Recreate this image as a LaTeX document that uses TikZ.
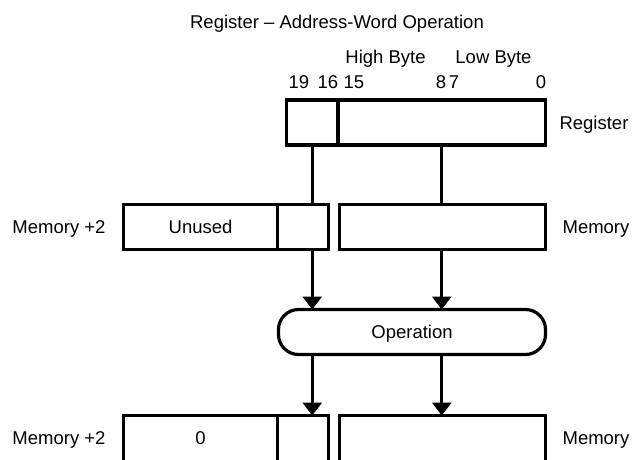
\documentclass[tikz,border=0pt]{standalone}
\usepackage{fontspec}
\setmainfont{Liberation Sans}
\usetikzlibrary{arrows.meta}
\begin{document}
\begin{tikzpicture}[x=1pt, y=-1pt, line width=3.2pt,
  cell/.style={draw, inner sep=0pt, outer sep=0pt, minimum height=45pt},
  lbl/.style={font=\fontsize{18.5}{22}\selectfont, inner sep=0pt, anchor=base},
  flow/.style={-{Triangle[width=19pt,length=13pt]}}]
\useasboundingbox (0,0) rectangle (633,459);
\node[lbl] (title) at (337,28) {Register – Address-Word Operation};
\node[lbl] (high) at (385.5,63) {High Byte};
\node[lbl] (low) at (493.5,63) {Low Byte};
\foreach \x/\b in {299/19, 328/16, 354/15, 441/8, 454/7, 541/0}
  \node[lbl] (bit\b) at (\x, 88) {\b};
% register
\node[cell, minimum width=51.5pt] (regX) at (312.25,122.5) {};
\node[cell, minimum width=207.5pt] (regW) at (441.75,122.5) {};
\node[lbl] (regname) at (594,129) {Register};
% memory
\node[cell, minimum width=154.2pt] (memHi) at (200.6,227) {};
\node[cell, minimum width=50.8pt] (memX) at (303.1,227) {};
\node[cell, minimum width=206pt] (memLo) at (442.5,227) {};
\node[lbl] (unused) at (200.6,233.6) {Unused};
\node[lbl] (memname2) at (59,233.6) {Memory +2};
\node[lbl] (memname) at (596,233.6) {Memory};
% operation
\node[cell, rounded corners=20pt, minimum width=267pt] (op) at (412,332) {};
\node[lbl] (optext) at (412,338.6) {Operation};
% result
\node[cell, minimum width=154.2pt, minimum height=50pt] (resHi) at (200.6,440.5) {};
\node[cell, minimum width=50.8pt, minimum height=50pt] (resX) at (303.1,440.5) {};
\node[cell, minimum width=206pt, minimum height=50pt] (resLo) at (442.5,440.5) {};
\node[lbl] (zero) at (200.6,444.6) {0};
\node[lbl] (resname2) at (59,444.6) {Memory +2};
\node[lbl] (resname) at (596,444.6) {Memory};
% data paths
\draw (regX.south) -- (regX.south |- memX.north);
\draw (regW.south) -- (regW.south |- memLo.north);
\draw[flow] (regX.south |- memX.south) -- (regX.south |- op.north);
\draw[flow] (regW.south |- memLo.south) -- (regW.south |- op.north);
\draw[flow] (regX.south |- op.south) -- (regX.south |- resX.north);
\draw[flow] (regW.south |- op.south) -- (regW.south |- resLo.north);
\end{tikzpicture}
\end{document}
